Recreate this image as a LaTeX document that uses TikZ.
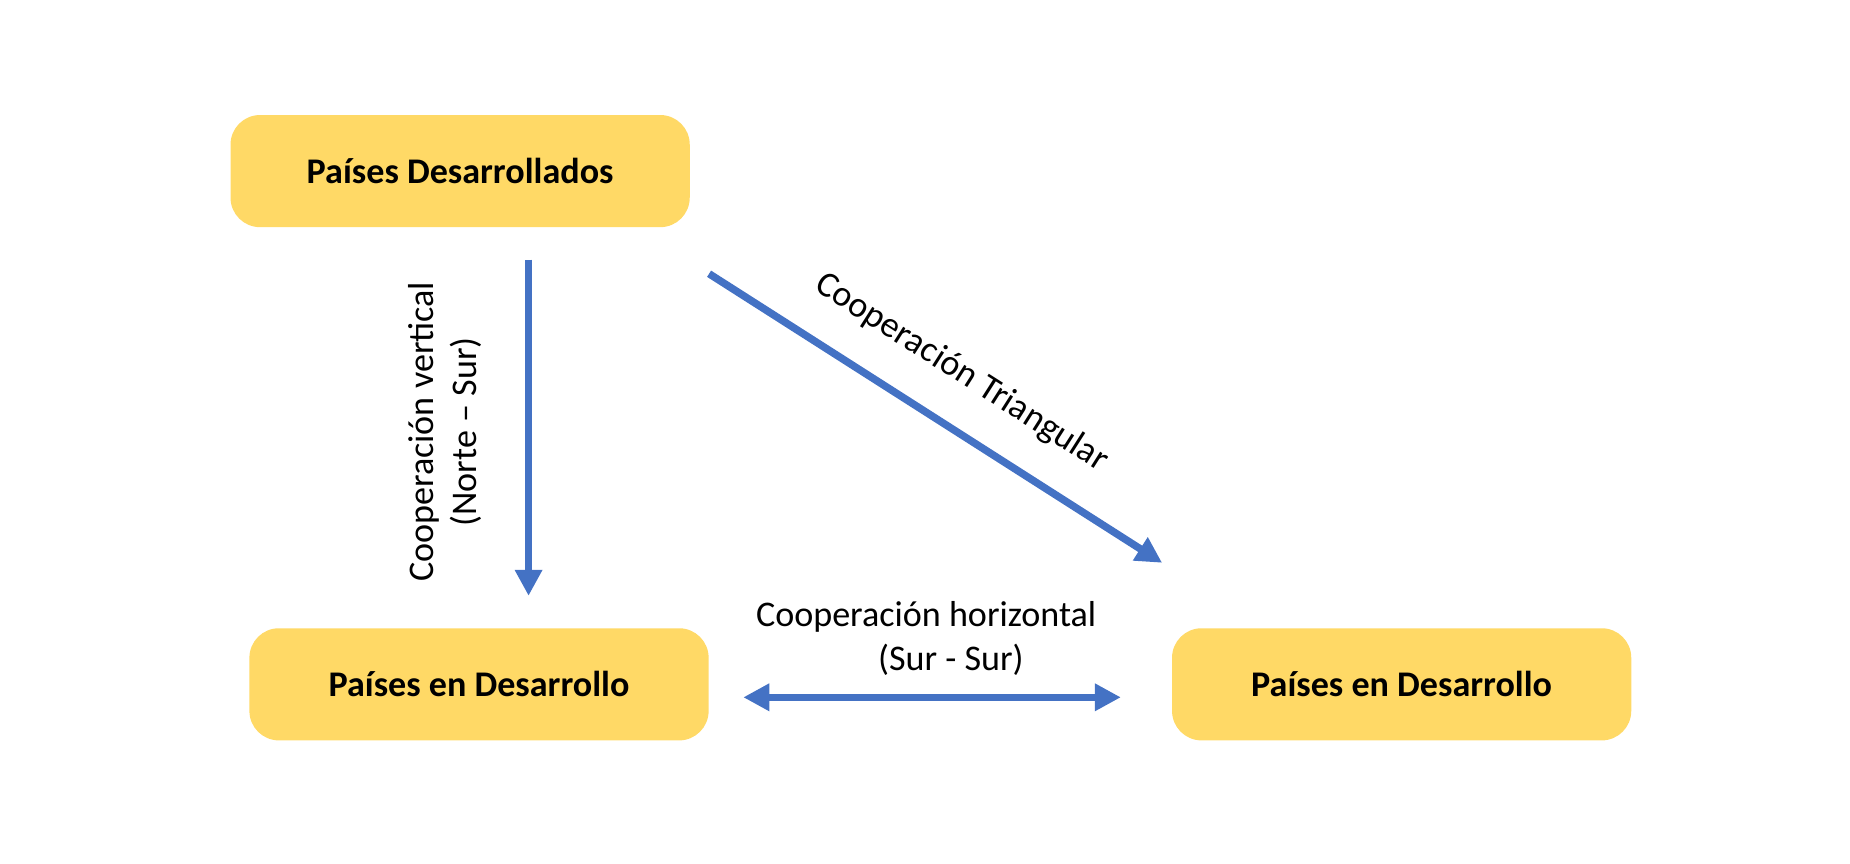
\documentclass[tikz,border=0pt]{standalone}
\usepackage{fontspec}
\setmainfont{Carlito}
\usetikzlibrary{arrows.meta,positioning}
\definecolor{boxyellow}{HTML}{FFD966}
\definecolor{arrblue}{HTML}{4472C4}
\tikzset{
  >=Triangle,
  pais/.style={rectangle, fill=boxyellow, rounded corners=2.5mm, minimum width=3.89cm, minimum height=0.95cm, font=\fontsize{8.7}{10.5}\selectfont\bfseries},
  coop/.style={-{Triangle[length=2.2mm,width=2.2mm]}, arrblue, line width=1.8pt},
  lbl/.style={font=\fontsize{8.7}{10.5}\selectfont, align=center}
}
\begin{document}
\begin{tikzpicture}[x=0.01cm, y=-0.01cm]
    \useasboundingbox (0,0) rectangle (1568,732);
    % Countries
    \node[pais] (des) at (390,145) {Países Desarrollados};
    \node[pais] (enA) at (406,580) {Países en Desarrollo};
    \node[pais] (enB) at (1188,580) {Países en Desarrollo};

    % Arrow end points
    \coordinate (vTop) at (448,220);
    \coordinate (vBot) at (448,505);
    \coordinate (dTop) at (601,232);
    \coordinate (dBot) at (985,477);
    \coordinate (hL) at (630,591);
    \coordinate (hR) at (950,591);

    % Cooperation arrows
    \draw[coop] (vTop) -- (vBot);
    \draw[coop] (dTop) -- (dBot);
    \draw[coop, {Triangle[length=2.2mm,width=2.2mm]}-{Triangle[length=2.2mm,width=2.2mm]}] (hL) -- (hR);

    % Labels
    \node[lbl, rotate=90] (lblV) at (377,366) {Cooperación vertical\\(Norte – Sur)};
    \node[lbl, rotate=-32.5] (lblD) at (815,316) {Cooperación Triangular};
    \node[lbl] (lblH) at (785,541) {Cooperación horizontal\\\hspace*{4.2mm}(Sur - Sur)};
\end{tikzpicture}
\end{document}
